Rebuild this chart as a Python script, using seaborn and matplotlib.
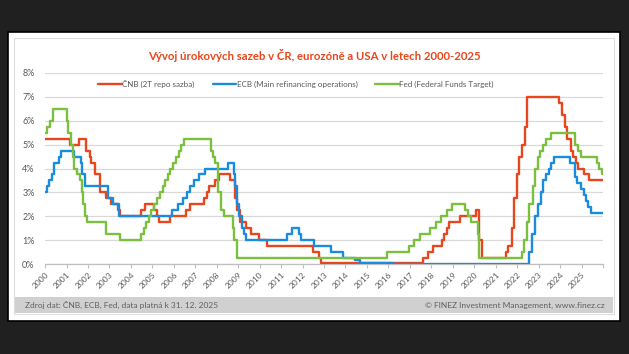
import pandas as pd
import matplotlib
matplotlib.use("Agg")
import matplotlib.pyplot as plt
from matplotlib.patches import Rectangle
import seaborn as sns

# ČNB 2T repo sazba - dny změny a nová úroveň (%)
cnb_dates = ["2000-01-01", "2001-03-01", "2001-07-27", "2001-11-30", "2002-01-31", "2002-02-22",
             "2002-04-26", "2002-07-26", "2002-11-01", "2003-01-31", "2003-06-01", "2003-06-27",
             "2004-06-25", "2004-08-27", "2005-01-28", "2005-03-25", "2005-04-29", "2005-10-31",
             "2006-07-28", "2006-09-29", "2007-05-31", "2007-07-27", "2007-08-31", "2007-11-30",
             "2008-02-08", "2008-08-08", "2008-11-07", "2008-12-18", "2009-02-06", "2009-05-11",
             "2009-08-07", "2009-12-17", "2010-05-07", "2012-06-29", "2012-10-01", "2012-11-02",
             "2017-08-04", "2017-11-03", "2018-02-02", "2018-06-28", "2018-08-03", "2018-09-27",
             "2018-11-02", "2019-05-03", "2020-02-07", "2020-03-17", "2020-03-27", "2020-05-11",
             "2021-06-24", "2021-08-06", "2021-09-30", "2021-11-04", "2021-12-23", "2022-02-04",
             "2022-03-31", "2022-05-06", "2022-06-23", "2023-12-22", "2024-02-09", "2024-03-21",
             "2024-05-03", "2024-06-28", "2024-08-08", "2024-09-26", "2024-11-08", "2025-02-06",
             "2025-05-08"]
cnb_rate = [5.25, 5.00, 5.25, 4.75, 4.50, 4.25,
            3.75, 3.00, 2.75, 2.50, 2.25, 2.00,
            2.25, 2.50, 2.25, 2.00, 1.75, 2.00,
            2.25, 2.50, 2.75, 3.00, 3.25, 3.50,
            3.75, 3.50, 2.75, 2.25, 1.75, 1.50,
            1.25, 1.00, 0.75, 0.50, 0.25, 0.05,
            0.25, 0.50, 0.75, 1.00, 1.25, 1.50,
            1.75, 2.00, 2.25, 1.75, 1.00, 0.25,
            0.50, 0.75, 1.50, 2.75, 3.75, 4.50,
            5.00, 5.75, 7.00, 6.75, 6.25, 5.75,
            5.25, 4.75, 4.50, 4.25, 4.00, 3.75,
            3.50]

# ECB hlavní refinanční operace
ecb_dates = ["2000-01-01", "2000-02-04", "2000-03-17", "2000-04-28", "2000-06-09", "2000-09-01",
             "2000-10-06", "2001-05-11", "2001-08-31", "2001-09-18", "2001-11-09", "2002-12-06",
             "2003-03-07", "2003-06-06", "2005-12-06", "2006-03-08", "2006-06-15", "2006-08-09",
             "2006-10-11", "2006-12-13", "2007-03-14", "2007-06-13", "2008-07-09", "2008-10-15",
             "2008-11-12", "2008-12-10", "2009-01-21", "2009-03-11", "2009-04-08", "2009-05-13",
             "2011-04-13", "2011-07-13", "2011-11-09", "2011-12-14", "2012-07-11", "2013-05-08",
             "2013-11-13", "2014-06-11", "2014-09-10", "2016-03-16", "2022-07-27", "2022-09-14",
             "2022-11-02", "2022-12-21", "2023-02-08", "2023-03-22", "2023-05-10", "2023-06-21",
             "2023-08-02", "2023-09-20", "2024-06-12", "2024-09-18", "2024-10-23", "2024-12-18",
             "2025-02-05", "2025-03-12", "2025-04-23", "2025-06-11"]
ecb_rate = [3.00, 3.25, 3.50, 3.75, 4.25, 4.50,
            4.75, 4.50, 4.25, 3.75, 3.25, 2.75,
            2.50, 2.00, 2.25, 2.50, 2.75, 3.00,
            3.25, 3.50, 3.75, 4.00, 4.25, 3.75,
            3.25, 2.50, 2.00, 1.50, 1.25, 1.00,
            1.25, 1.50, 1.25, 1.00, 0.75, 0.50,
            0.25, 0.15, 0.05, 0.00, 0.50, 1.25,
            2.00, 2.50, 3.00, 3.50, 3.75, 4.00,
            4.25, 4.50, 4.25, 3.65, 3.40, 3.15,
            2.90, 2.65, 2.40, 2.15]

# Fed - Federal Funds Target (horní mez)
fed_dates = ["2000-01-01", "2000-02-02", "2000-03-21", "2000-05-16", "2001-01-03", "2001-01-31",
             "2001-03-20", "2001-04-18", "2001-05-15", "2001-06-27", "2001-08-21", "2001-09-17",
             "2001-10-02", "2001-11-06", "2001-12-11", "2002-11-06", "2003-06-25", "2004-06-30",
             "2004-08-10", "2004-09-21", "2004-11-10", "2004-12-14", "2005-02-02", "2005-03-22",
             "2005-05-03", "2005-06-30", "2005-08-09", "2005-09-20", "2005-11-01", "2005-12-13",
             "2006-01-31", "2006-03-28", "2006-05-10", "2006-06-29", "2007-09-18", "2007-10-31",
             "2007-12-11", "2008-01-22", "2008-01-30", "2008-03-18", "2008-04-30", "2008-10-08",
             "2008-10-29", "2008-12-16", "2015-12-16", "2016-12-14", "2017-03-15", "2017-06-14",
             "2017-12-13", "2018-03-21", "2018-06-13", "2018-09-26", "2018-12-19", "2019-08-01",
             "2019-09-19", "2019-10-31", "2020-03-03", "2020-03-16", "2022-03-17", "2022-05-05",
             "2022-06-16", "2022-07-28", "2022-09-22", "2022-11-03", "2022-12-15", "2023-02-02",
             "2023-03-23", "2023-05-04", "2023-07-27", "2024-09-19", "2024-11-08", "2024-12-19",
             "2025-09-18", "2025-10-30", "2025-12-11"]
fed_rate = [5.50, 5.75, 6.00, 6.50, 6.00, 5.50,
            5.00, 4.50, 4.00, 3.75, 3.50, 3.00,
            2.50, 2.00, 1.75, 1.25, 1.00, 1.25,
            1.50, 1.75, 2.00, 2.25, 2.50, 2.75,
            3.00, 3.25, 3.50, 3.75, 4.00, 4.25,
            4.50, 4.75, 5.00, 5.25, 4.75, 4.50,
            4.25, 3.50, 3.00, 2.25, 2.00, 1.50,
            1.00, 0.25, 0.50, 0.75, 1.00, 1.25,
            1.50, 1.75, 2.00, 2.25, 2.50, 2.25,
            2.00, 1.75, 1.25, 0.25, 0.50, 1.00,
            1.75, 2.50, 3.25, 4.00, 4.50, 4.75,
            5.00, 5.25, 5.50, 5.00, 4.75, 4.50,
            4.25, 4.00, 3.75]

end_date = "2025-12-31"
years = list(range(2000, 2026))
y_ticks = [0, 1, 2, 3, 4, 5, 6, 7, 8]

series = [
    ("ČNB (2T repo sazba)", cnb_dates, cnb_rate, "#e8461c"),
    ("ECB (Main refinancing operations)", ecb_dates, ecb_rate, "#1a8ce0"),
    ("Fed (Federal Funds Target)", fed_dates, fed_rate, "#7bbf3f"),
]

sns.set_style("white")
plt.rcParams['font.family'] = ['Lato', 'DejaVu Sans']

W, H = 629, 354
fig = plt.figure(figsize=(W / 100, H / 100), dpi=100, facecolor="#202020")

def px(x0, y0, x1, y1):
    """pixelové souřadnice (od horního okraje) -> figure fraction"""
    return (x0 / W, 1 - y1 / H, (x1 - x0) / W, (y1 - y0) / H)

# karta s rámečkem a šedým pruhem zápatí
l, b, w, h = px(8, 32, 620, 321)
fig.patches.append(Rectangle((l, b), w, h, transform=fig.transFigure,
                             facecolor="white", edgecolor="black", linewidth=1.2, zorder=-3))
l, b, w, h = px(14, 38, 614, 314)
fig.patches.append(Rectangle((l, b), w, h, transform=fig.transFigure,
                             facecolor="white", edgecolor="#dcdcdc", linewidth=0.8, zorder=-2))
l, b, w, h = px(15, 297, 613, 313)
fig.patches.append(Rectangle((l, b), w, h, transform=fig.transFigure,
                             facecolor="#d0d0d0", edgecolor="none", zorder=-1))

ax = fig.add_axes(px(45, 73, 603, 264))
ax.set_facecolor("none")

for name, d, v, col in series:
    df = pd.DataFrame({"date": pd.to_datetime(d + [end_date]), "rate": v + [v[-1]]})
    sns.lineplot(data=df, x="date", y="rate", ax=ax, color=col, linewidth=1.7,
                 drawstyle="steps-post", label=name, zorder=3)

ax.set_xlim(pd.Timestamp("2000-01-01"), pd.Timestamp("2026-01-01"))
ax.set_ylim(0, 8)
ax.set_yticks(y_ticks)
ax.set_yticklabels([f"{t}%" for t in y_ticks])
ax.set_xticks([pd.Timestamp(f"{y}-01-01") for y in years] + [pd.Timestamp("2026-01-01")])
ax.set_xticklabels([str(y) for y in years] + [""], rotation=45, ha="right",
                   rotation_mode="anchor")
ax.set_xlabel("")
ax.set_ylabel("")
ax.grid(axis="y", color="#d9d9d9", linewidth=0.9)
ax.grid(axis="x", visible=False)
for s in ["left", "right", "top"]:
    ax.spines[s].set_visible(False)
ax.spines["bottom"].set_color("#bfbfbf")
ax.spines["bottom"].set_linewidth(0.9)
ax.tick_params(axis="x", bottom=True, length=3, width=0.8, color="#bfbfbf",
               labelsize=6, labelcolor="#595959", pad=2)
ax.tick_params(axis="y", left=False, labelsize=6.5, labelcolor="#595959", pad=4)

leg = ax.legend(loc="upper center", bbox_to_anchor=(0.45, 1.0), ncol=3, frameon=False,
                fontsize=5.8, handlelength=2.9, handletextpad=0.1, columnspacing=2.2)
for t in leg.get_texts():
    t.set_color("#595959")

fig.text(314 / W, 1 - 56 / H, "Vývoj úrokových sazeb v ČR, eurozóně a USA v letech 2000-2025",
         ha="center", va="center", fontsize=8.2, color="#e8461c", fontweight="bold")
fig.text(25 / W, 1 - 305 / H, "Zdroj dat: ČNB, ECB, Fed, data platná k 31. 12. 2025",
         ha="left", va="center", fontsize=6, color="#606060")
fig.text(605 / W, 1 - 305 / H, "© FINEZ Investment Management, www.finez.cz",
         ha="right", va="center", fontsize=6, color="#606060")

fig.savefig("out.png", dpi=100, facecolor=fig.get_facecolor())
